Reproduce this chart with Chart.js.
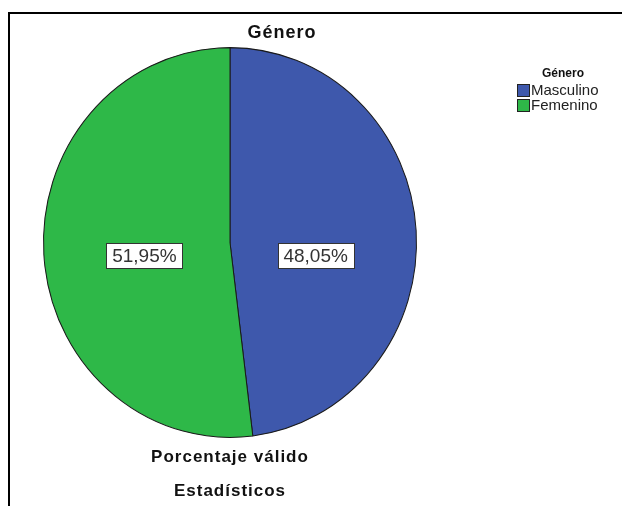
<!DOCTYPE html>
<html>
<head>
<meta charset="utf-8">
<script src="https://cdn.jsdelivr.net/npm/chart.js@4"></script>
<style>
    body { margin: 0; background: #fff; }
    #wrap { position: relative; width: 622px; height: 506px; overflow: hidden; }
    #frame {
        position: absolute; left: 8px; top: 12px; width: 640px; height: 520px;
        border-left: 2px solid #000; border-top: 2px solid #000;
    }
    #chart { position: absolute; left: 0; top: 0; }
</style>
</head>
<body>
<div id="wrap">
    <div id="frame"></div>
    <canvas id="chart" width="622" height="506"></canvas>
</div>
<script>
const categories = ['Masculino', 'Femenino'];
const percentages = [48.05, 51.95];
const chartTitle = 'Género';
const axisTitles = ['Porcentaje válido', 'Estadísticos'];

const sliceColors = ['#3e58ac', '#2eb848'];
const fontFamily = '"Liberation Sans", Arial, sans-serif';
const stretchY = 1.045;   // the pie is drawn slightly taller than wide

const fmt = v => v.toFixed(2).replace('.', ',') + '%';

const ovalPie = {
    id: 'ovalPie',
    beforeDatasetsDraw(chart) {
        const arc = chart.getDatasetMeta(0).data[0];
        const ctx = chart.ctx;
        ctx.save();
        ctx.translate(arc.x, arc.y);
        ctx.scale(1, stretchY);
        ctx.translate(-arc.x, -arc.y);
    },
    afterDatasetsDraw(chart) {
        chart.ctx.restore();
    }
};

// value boxes, titles and legend are painted on top of the pie
const decorations = {
    id: 'decorations',
    afterDraw(chart) {
        const ctx = chart.ctx;
        const meta = chart.getDatasetMeta(0);
        const ds = chart.data.datasets[0];
        ctx.save();

        // value boxes inside each slice
        ctx.font = '19px ' + fontFamily;
        ctx.textAlign = 'center';
        ctx.textBaseline = 'middle';
        meta.data.forEach((arc, i) => {
            const p = arc.getProps(['x', 'y', 'startAngle', 'endAngle', 'outerRadius'], true);
            const mid = (p.startAngle + p.endAngle) / 2;
            const x = p.x + Math.cos(mid) * p.outerRadius * 0.46;
            const y = p.y + 13;
            const text = fmt(ds.data[i]);
            const w = Math.round(ctx.measureText(text).width + 12);
            const h = 25;
            const left = Math.round(x - w / 2) + 0.5;
            const top = Math.round(y - h / 2) + 0.5;
            ctx.fillStyle = '#fff';
            ctx.fillRect(left, top, w, h);
            ctx.strokeStyle = '#333';
            ctx.lineWidth = 1;
            ctx.strokeRect(left, top, w, h);
            ctx.fillStyle = '#333';
            ctx.fillText(text, x, y + 1);
        });

        const cx = meta.data[0].x;
        ctx.fillStyle = '#111';
        ctx.letterSpacing = '1px';
        ctx.font = 'bold 18px ' + fontFamily;
        ctx.fillText(chartTitle, 282, 33);
        ctx.font = 'bold 17px ' + fontFamily;
        ctx.fillText(axisTitles[0], cx, 457);
        ctx.fillText(axisTitles[1], cx, 491);

        // legend
        ctx.letterSpacing = '0px';
        ctx.font = 'bold 12px ' + fontFamily;
        ctx.fillText(chartTitle, 563, 74);
        ctx.textAlign = 'left';
        ctx.font = '15px ' + fontFamily;
        categories.forEach((c, i) => {
            const y = 84 + i * 15;
            ctx.fillStyle = ds.backgroundColor[i];
            ctx.fillRect(517, y, 13, 13);
            ctx.strokeStyle = '#222';
            ctx.strokeRect(517.5, y + 0.5, 12, 12);
            ctx.fillStyle = '#222';
            ctx.fillText(c, 531, y + 7);
        });
        ctx.restore();
    }
};

new Chart(document.getElementById('chart'), {
    type: 'pie',
    data: {
        labels: categories,
        datasets: [{
            data: percentages,
            backgroundColor: sliceColors,
            borderColor: '#1a1a1a',
            borderWidth: 1,
        }]
    },
    options: {
        responsive: false,
        animation: false,
        layout: {
            padding: { left: 43, right: 205, top: 55, bottom: 76 }
        },
        plugins: {
            legend: { display: false },
            tooltip: { enabled: false }
        }
    },
    plugins: [ovalPie, decorations]
});
</script>
</body>
</html>
